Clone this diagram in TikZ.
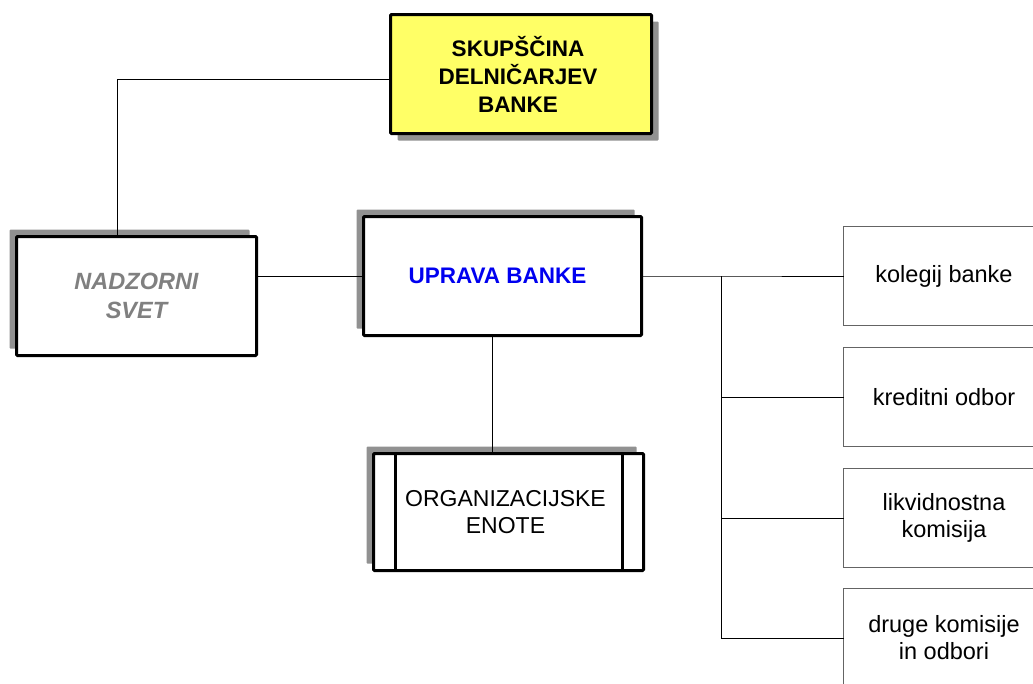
\documentclass[tikz,border=0pt]{standalone}
\usepackage{fontspec}
\setmainfont{Liberation Sans}
\usetikzlibrary{shadows,calc}
\definecolor{boxyellow}{RGB}{255,255,102}
\definecolor{shadowgray}{RGB}{145,145,145}
\definecolor{txtblue}{RGB}{0,0,240}
\definecolor{txtgray}{RGB}{128,128,128}
\definecolor{thingray}{RGB}{100,100,100}
\begin{document}
\begin{tikzpicture}[x=1pt,y=-1pt,
  mainbox/.style={draw=black, line width=3pt, fill=white, rounded corners=1pt, outer sep=0pt, align=center, inner sep=0pt},
  shadowUL/.style={general shadow={fill=shadowgray, shadow xshift=-7pt, shadow yshift=7pt}},
  shadowDR/.style={general shadow={fill=shadowgray, shadow xshift=7pt, shadow yshift=-7pt}},
  sidebox/.style={draw=thingray, line width=1.3pt, fill=white, outer sep=0pt, align=center, inner sep=0pt,
    minimum width=201pt, minimum height=99pt, font=\fontsize{23.5}{27}\selectfont},
  conn/.style={draw=black, line width=0.9pt}
]
\useasboundingbox (0,0) rectangle (1033,683);
\begin{scope}
\clip (0,0) rectangle (1033,683);
% top box
\node[mainbox, shadowDR, fill=boxyellow, minimum width=261pt, minimum height=119pt,
  font=\bfseries\fontsize{22.5}{28}\selectfont] (top) at (521,74) {SKUPŠČINA\kern6pt\\DELNIČARJEV\kern6pt\\BANKE\kern6pt};
% nadzorni svet
\node[mainbox, shadowUL, minimum width=240pt, minimum height=119pt, text=txtgray,
  font=\bfseries\itshape\fontsize{23.5}{29}\selectfont] (ns) at (136.5,296) {NADZORNI\\SVET};
% uprava banke
\node[mainbox, shadowUL, minimum width=278pt, minimum height=119pt, text=txtblue,
  font=\bfseries\fontsize{22.5}{28}\selectfont] (up) at (502.5,276) {UPRAVA BANKE\kern10pt};
% organizacijske enote
\node[mainbox, shadowUL, minimum width=270pt, minimum height=117pt,
  font=\fontsize{23}{27}\selectfont] (org) at (508.5,512) {ORGANIZACIJSKE\kern6pt\\ENOTE\kern6pt};
\draw[line width=3pt] ([xshift=21.5pt]org.north west) -- ([xshift=21.5pt]org.south west);
\draw[line width=3pt] ([xshift=-21.5pt]org.north east) -- ([xshift=-21.5pt]org.south east);
% side boxes
\node[sidebox] (k1) at (944,276) {kolegij banke};
\node[sidebox] (k2) at (944,397) {kreditni odbor};
\node[sidebox] (k3) at (944,518) {likvidnostna\\komisija};
\node[sidebox] (k4) at (944,638) {druge komisije\\in odbori};
% connectors
\draw[conn] ([yshift=-5pt]top.west) -| ([xshift=-19.5pt]ns.north);
\draw[conn] (up.west) -- (up.west -| ns.east);
\coordinate (dn) at ([xshift=-10.5pt]up.south);
\draw[conn] (dn) -- (dn |- org.north);
\coordinate (bus) at (721,276);
\draw[conn] (up.east) -- (bus) -- (k1.west);
\draw[conn] (bus) |- (k4.west);
\draw[conn] (bus |- k2.west) -- (k2.west);
\draw[conn] (bus |- k3.west) -- (k3.west);
\end{scope}
\end{tikzpicture}
\end{document}
